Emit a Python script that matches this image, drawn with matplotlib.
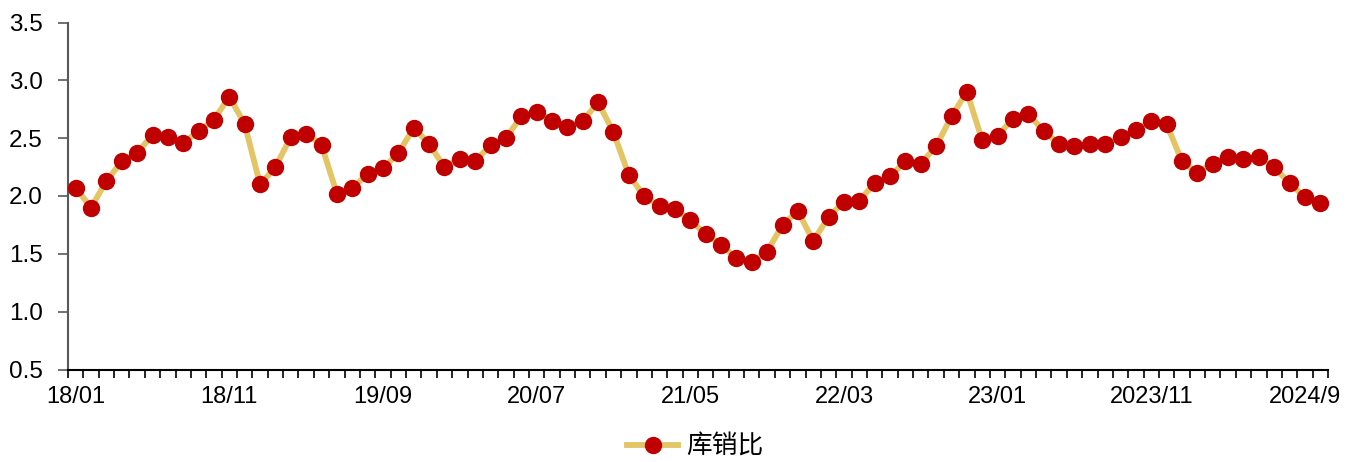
import matplotlib
matplotlib.use("Agg")
import matplotlib.pyplot as plt
from matplotlib.ticker import FixedLocator, FixedFormatter, MultipleLocator, FormatStrFormatter

plt.rcParams['font.family'] = ['Liberation Sans', 'Noto Sans CJK SC', 'DejaVu Sans']

# Monthly inventory-to-sales ratio, 2018/01 - 2024/10
ratio = [
    2.07, 1.90, 2.13, 2.30, 2.37, 2.53, 2.51, 2.46, 2.56, 2.66,
    2.86, 2.62, 2.10, 2.25, 2.51, 2.54, 2.44, 2.02, 2.07, 2.19,
    2.24, 2.37, 2.59, 2.45, 2.25, 2.32, 2.30, 2.44, 2.50, 2.69,
    2.73, 2.65, 2.60, 2.65, 2.81, 2.55, 2.18, 2.00, 1.91, 1.89,
    1.79, 1.67, 1.58, 1.46, 1.43, 1.52, 1.75, 1.87, 1.61, 1.82,
    1.95, 1.96, 2.11, 2.17, 2.30, 2.28, 2.43, 2.69, 2.90, 2.48,
    2.52, 2.67, 2.71, 2.56, 2.45, 2.43, 2.45, 2.45, 2.51, 2.57,
    2.65, 2.62, 2.30, 2.20, 2.28, 2.34, 2.32, 2.34, 2.25, 2.11,
    1.99, 1.94,
]
tick_labels = ["18/01", "18/11", "19/09", "20/07", "21/05", "22/03",
               "23/01", "2023/11", "2024/9"]
series_name = "库销比"

line_color = "#E3C565"
marker_color = "#C00000"

fig = plt.figure(figsize=(13.59, 4.62), dpi=100)
ax = fig.add_axes([68 / 1359, 1 - 369.5 / 462, 1260 / 1359, (369.5 - 22.5) / 462])

x = list(range(len(ratio)))
ax.plot(x, ratio, color=line_color, lw=4.2, marker="o", markersize=11.5,
        markerfacecolor=marker_color, markeredgecolor=marker_color,
        label=series_name, zorder=3, clip_on=False)

ax.set_xlim(-0.5, len(ratio) - 0.5)
ax.set_ylim(0.5, 3.5)

ax.yaxis.set_major_locator(MultipleLocator(0.5))
ax.yaxis.set_major_formatter(FormatStrFormatter("%.1f"))

label_pos = list(range(0, len(ratio), 10))[:len(tick_labels)]
ax.xaxis.set_major_locator(FixedLocator(label_pos))
ax.xaxis.set_major_formatter(FixedFormatter(tick_labels))
ax.xaxis.set_minor_locator(FixedLocator([i - 0.5 for i in range(len(ratio) + 1)]))

ax.tick_params(axis="x", which="major", length=0, pad=12, labelsize=17)
ax.tick_params(axis="x", which="minor", length=6, width=1.2, color="black", direction="out")
ax.tick_params(axis="y", which="major", length=7, width=1.2, color="#595959",
               direction="out", pad=11, labelsize=17.5)

for side in ("top", "right"):
    ax.spines[side].set_visible(False)
ax.spines["left"].set_color("#595959")
ax.spines["left"].set_linewidth(1.5)
ax.spines["bottom"].set_color("black")
ax.spines["bottom"].set_linewidth(1.5)

leg = fig.legend(loc="lower center", bbox_to_anchor=(0.5115, -0.045), frameon=False,
                 prop={"family": ["Noto Sans CJK SC", "DejaVu Sans"], "size": 18.5},
                 handlelength=2.0, handletextpad=0.3)

fig.savefig("out.png", dpi=100)
